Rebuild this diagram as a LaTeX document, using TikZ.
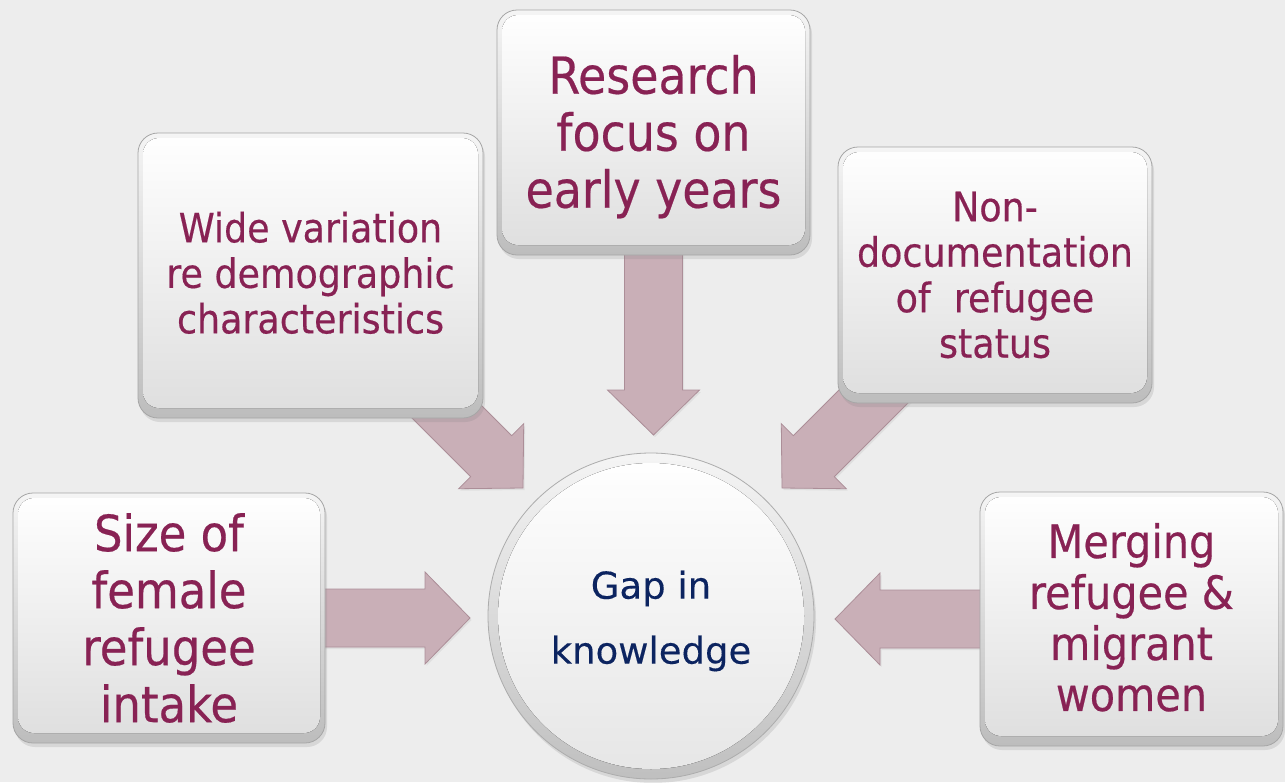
\documentclass[tikz,border=0pt]{standalone}
\usepackage{fontspec}
\setmainfont{DejaVu Sans Condensed}[FakeBold=0.4]
\newfontfamily\hubfont{DejaVu Sans}[FakeBold=0.3]
\usetikzlibrary{calc,shadows}
\definecolor{bgc}{RGB}{237,237,237}
\definecolor{txt}{RGB}{136,34,84}
\definecolor{navy}{RGB}{12,36,96}
\definecolor{arr}{RGB}{201,175,183}
\definecolor{arredge}{RGB}{172,142,152}
\pgfdeclarelayer{bglayer}
\pgfdeclarelayer{arrlayer}
\pgfsetlayers{bglayer,arrlayer,main}
\tikzset{
  card/.style={rectangle, rounded corners=20pt, draw=gray!70, line width=0.8pt,
    top color=gray!8, bottom color=gray!52, text=txt, align=center, inner sep=0pt,
    drop shadow={opacity=0.2, shadow xshift=2pt, shadow yshift=-4pt},
    path picture={\fill[rounded corners=16pt, top color=white, bottom color=gray!26]
      ([shift={(5pt,-5pt)}]path picture bounding box.north west) rectangle
      ([shift={(-5pt,10pt)}]path picture bounding box.south east);}},
  hub/.style={circle, minimum size=326pt, draw=gray!65, line width=0.8pt,
    top color=gray!8, bottom color=gray!50, text=navy, align=center, inner sep=0pt,
    drop shadow={opacity=0.2, shadow xshift=2pt, shadow yshift=-4pt},
    font=\hubfont\fontsize{37pt}{65pt}\selectfont,
    path picture={\fill[top color=white, bottom color=gray!20]
      (path picture bounding box.center) circle (153pt);}},
  blockarr/.style={fill=arr, draw=arredge, line width=0.8pt, line join=miter,
    drop shadow={opacity=0.12, shadow xshift=1.5pt, shadow yshift=-2pt}}
}
\newcommand\blockarrow[2]{%
  \path ($(#2)!45pt!(#1)$) coordinate (hb);
  \draw[blockarr] ($(#1)!29pt!90:(#2)$) -- ($(hb)!29pt!90:(#2)$) -- ($(hb)!46pt!90:(#2)$)
    -- (#2) -- ($(hb)!46pt!-90:(#2)$) -- ($(hb)!29pt!-90:(#2)$) -- ($(#1)!29pt!-90:(#2)$) -- cycle;}
\begin{document}
\begin{tikzpicture}[x=1pt,y=-1pt]
\useasboundingbox (0,0) rectangle (1285,782);
\begin{pgfonlayer}{bglayer}
\fill[bgc] (0,0) rectangle (1285,782);
\end{pgfonlayer}

\node[card, minimum width=313pt, minimum height=245pt, font=\fontsize{51pt}{57pt}\selectfont]
  (top) at (653.5,132.5) {\rule{0pt}{47pt}Research\\focus on\\early years};
\node[card, minimum width=345pt, minimum height=285pt, font=\fontsize{40.5pt}{45.5pt}\selectfont]
  (ul) at (310.5,275.5) {Wide variation\\re demographic\\characteristics\rule[-6pt]{0pt}{6pt}};
\node[card, minimum width=314pt, minimum height=256pt, font=\fontsize{40.5pt}{45.5pt}\selectfont]
  (ur) at (995,275) {Non-\\documentation\\of~~refugee\\status};
\node[card, minimum width=312pt, minimum height=250pt, font=\fontsize{50pt}{57pt}\selectfont]
  (ll) at (169,618) {Size of\\female\\refugee\\intake};
\node[card, minimum width=303pt, minimum height=254pt, font=\fontsize{46pt}{51pt}\selectfont]
  (lr) at (1131.5,619) {Merging\\refugee \&\\migrant\\women\rule[-4pt]{0pt}{4pt}};
\node[hub] (gap) at (651,616) {\rule{0pt}{38pt}Gap in\\knowledge};

\coordinate (tT) at (653.5,435);
\coordinate (tUL) at (523,488);
\coordinate (tUR) at (782,488);
\coordinate (tL) at (470,618);
\coordinate (tR) at (835,619);

\begin{pgfonlayer}{arrlayer}
\blockarrow{top.center}{tT}
\blockarrow{ul.center}{tUL}
\blockarrow{ur.center}{tUR}
\blockarrow{ll.center}{tL}
\blockarrow{lr.center}{tR}
\end{pgfonlayer}
\end{tikzpicture}
\end{document}
